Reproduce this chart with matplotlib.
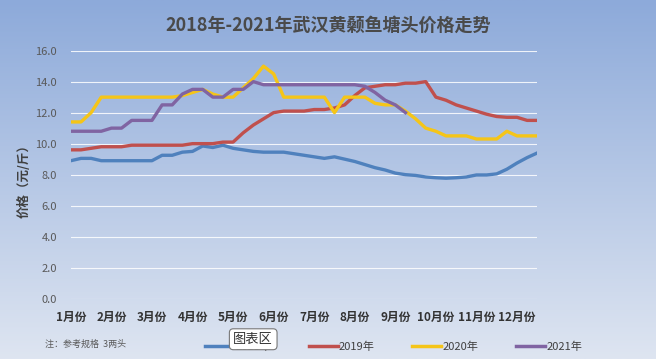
import matplotlib
matplotlib.use("Agg")
import matplotlib.pyplot as plt
from matplotlib.lines import Line2D
import numpy as np

plt.rcParams['font.family'] = ['Noto Sans CJK SC', 'DejaVu Sans']

# weekly prices, 47 points across the year (2021 only up to September)
prices_2018 = [8.9, 9.05, 9.05, 8.9, 8.9, 8.9, 8.9, 8.9, 8.9, 9.25, 9.25, 9.45, 9.5, 9.85, 9.75, 9.9,
               9.7, 9.6, 9.5, 9.45, 9.45, 9.45, 9.35, 9.25, 9.15, 9.05, 9.15, 9.0, 8.85, 8.65, 8.45, 8.3,
               8.1, 8.0, 7.95, 7.85, 7.8, 7.77, 7.8, 7.85, 7.98, 7.98, 8.05, 8.35, 8.75, 9.1, 9.4]
prices_2019 = [9.6, 9.6, 9.7, 9.8, 9.8, 9.8, 9.9, 9.9, 9.9, 9.9, 9.9, 9.9, 10.0, 10.0, 10.0, 10.1,
               10.1, 10.7, 11.2, 11.6, 12.0, 12.1, 12.1, 12.1, 12.2, 12.2, 12.3, 12.5, 13.1, 13.6, 13.7, 13.8,
               13.8, 13.9, 13.9, 14.0, 13.0, 12.8, 12.5, 12.3, 12.1, 11.9, 11.75, 11.7, 11.7, 11.5, 11.5]
prices_2020 = [11.4, 11.4, 12.0, 13.0, 13.0, 13.0, 13.0, 13.0, 13.0, 13.0, 13.0, 13.1, 13.3, 13.5, 13.2, 13.0,
               13.0, 13.6, 14.2, 15.0, 14.5, 13.0, 13.0, 13.0, 13.0, 13.0, 12.0, 13.0, 13.0, 13.0, 12.6, 12.5,
               12.5, 12.1, 11.6, 11.0, 10.8, 10.5, 10.5, 10.5, 10.3, 10.3, 10.3, 10.8, 10.5, 10.5, 10.5]
prices_2021 = [10.8, 10.8, 10.8, 10.8, 11.0, 11.0, 11.5, 11.5, 11.5, 12.5, 12.5, 13.2, 13.5, 13.5, 13.0, 13.0,
               13.5, 13.5, 14.0, 13.8, 13.8, 13.8, 13.8, 13.8, 13.8, 13.8, 13.8, 13.8, 13.8, 13.7, 13.3, 12.8,
               12.5, 12.0]

months = ['1月份', '2月份', '3月份', '4月份', '5月份', '6月份', '7月份', '8月份', '9月份', '10月份', '11月份', '12月份']
series = [('2018年', prices_2018, '#4f81bd'),
          ('2019年', prices_2019, '#c0504d'),
          ('2020年', prices_2020, '#f5c518'),
          ('2021年', prices_2021, '#8064a2')]

fig = plt.figure(figsize=(6.56, 3.59), dpi=100)

# gradient background over whole figure
bg = fig.add_axes([0, 0, 1, 1], zorder=-10)
top = np.array([141, 170, 218]) / 255
bottom = np.array([222, 229, 241]) / 255
t = np.linspace(0, 1, 256)[:, None]
grad = top * (1 - t) + bottom * t
bg.imshow(grad[:, None, :], aspect='auto', extent=[0, 1, 0, 1])
bg.axis('off')

ax = fig.add_axes([0.108, 0.168, 0.711, 0.691])
ax.patch.set_alpha(0)
for name, vals, color in series:
    ax.plot(np.arange(len(vals)), vals, color=color, lw=2.4, solid_joinstyle='round')

ax.set_xlim(0, 46)
ax.set_ylim(0, 16)
ax.set_yticks(np.arange(0, 17, 2))
ax.set_yticklabels([f'{v:.1f}' for v in np.arange(0, 17, 2)], fontsize=8, color='#595959')
ax.set_xticks(np.arange(0, 48, 4))
ax.set_xticklabels(months, fontsize=8.5, fontweight='bold', color='#333333')
ax.tick_params(length=0, axis='y', pad=10)
ax.tick_params(length=0, axis='x', pad=9)
ax.grid(axis='y', color='white', lw=0.8, alpha=0.85)
ax.set_axisbelow(True)
for s in ax.spines.values():
    s.set_visible(False)

fig.text(0.5, 0.93, '2018年-2021年武汉黄颡鱼塘头价格走势', ha='center', va='center',
         fontsize=13, fontweight='bold', color='#4a4a4a')
fig.text(0.037, 0.505, '价格（元/斤）', rotation=90, ha='center', va='center',
         fontsize=9, fontweight='bold', color='#404040')
fig.text(0.069, 0.04, '注：参考规格  3两头', ha='left', va='center', fontsize=6.5, color='#595959')

handles = [Line2D([], [], color=c, lw=2.5) for _, _, c in series]
fig.legend(handles, [n for n, _, _ in series], loc='center', bbox_to_anchor=(0.60, 0.035),
           ncol=4, frameon=False, fontsize=8, handlelength=2.6, handletextpad=0.1,
           columnspacing=3.4, labelcolor='#404040')

# chart-area tooltip from the screenshot
fig.text(0.386, 0.055, '图表区', ha='center', va='center', fontsize=9.5, color='#333333',
         bbox=dict(boxstyle='round,pad=0.3', fc='white', ec='#777777', lw=0.8), zorder=20)

fig.savefig('out.png', dpi=100)
